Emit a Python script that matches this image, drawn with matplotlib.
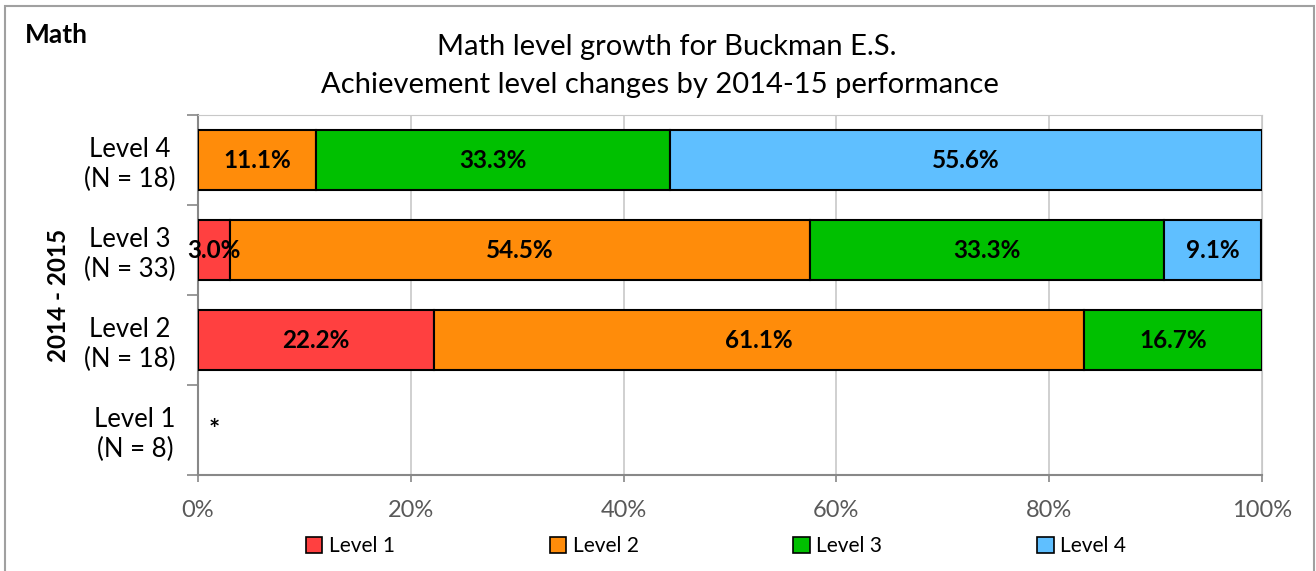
import numpy as np
import matplotlib
matplotlib.use("Agg")
import matplotlib.pyplot as plt
from matplotlib.patches import Rectangle, Patch

plt.rcParams['font.family'] = ['Lato', 'DejaVu Sans']

# rows from bottom to top
rows = ['Level 1\n(N = 8)', 'Level 2\n(N = 18)', 'Level 3\n(N = 33)', 'Level 4\n(N = 18)']
series = ['Level 1', 'Level 2', 'Level 3', 'Level 4']
level1 = [0, 22.2, 3.0, 0]
level2 = [0, 61.1, 54.5, 11.1]
level3 = [0, 16.7, 33.3, 33.3]
level4 = [0, 0, 9.1, 55.6]
colors = ['#FF4040', '#FF8C0A', '#00C000', '#5FBFFF']

fig = plt.figure(figsize=(13.16, 5.71), dpi=100)
ax = fig.add_axes([198/1316, 96/571, 1064/1316, 360/571])

# outer chart border
fig.patches.append(Rectangle((5/1316, -0.05), 1309/1316, 1.05 - 6/571,
                             transform=fig.transFigure, fill=False,
                             edgecolor='#A0A0A0', linewidth=1.5))

y = np.arange(len(rows))
left = np.zeros(len(rows))
for name, vals, c in zip(series, [level1, level2, level3, level4], colors):
    vals = np.array(vals)
    # no outline for empty segments
    lw = np.where(vals > 0, 1.5, 0)
    ax.barh(y, vals, left=left, height=0.66, color=c, edgecolor='black',
            linewidth=lw, zorder=3)
    for yi, v, l in zip(y, vals, left):
        if v > 0:
            ax.text(l + v / 2, yi, f'{v:.1f}%', ha='center', va='center',
                    fontsize=17.5, fontweight='bold', zorder=4)
    left += vals

ax.text(1.5, 0, '*', ha='center', va='center', fontsize=19, fontweight='bold')

ax.set_xlim(0, 100)
ax.set_ylim(-0.5, 3.5)
ax.set_xticks(np.arange(0, 101, 20))
ax.set_xticklabels([f'{v}%' for v in range(0, 101, 20)])
ax.set_yticks(y)
ax.set_yticklabels(rows)
ax.set_yticks(np.arange(-0.5, 3.6, 1), minor=True)
for lab in ax.get_yticklabels():
    lab.set_multialignment('center')

ax.tick_params(axis='y', which='major', length=0, pad=16, labelsize=18.5)
ax.tick_params(axis='y', which='minor', length=8, color='#888888', width=1.2)
ax.tick_params(axis='x', length=5, color='#888888', width=1.2, pad=13,
               labelsize=17, labelcolor='#595959')

ax.grid(axis='x', color='#C8C8C8', linewidth=1.2, zorder=0)
ax.spines['left'].set_color('#888888')
ax.spines['bottom'].set_color('#888888')
ax.spines['left'].set_linewidth(1.5)
ax.spines['bottom'].set_linewidth(1.5)
ax.spines['top'].set_color('#C8C8C8')
ax.spines['right'].set_color('#C8C8C8')

ax.set_ylabel('2014 - 2015', fontsize=17.5, fontweight='bold', labelpad=10)

fig.text(667/1316, 1 - 47/571, 'Math level growth for Buckman E.S.',
         ha='center', va='center', fontsize=21)
fig.text(660/1316, 1 - 85/571, 'Achievement level changes by 2014-15 performance',
         ha='center', va='center', fontsize=21)
fig.text(25/1316, 1 - 35/571, 'Math', ha='left', va='center', fontsize=19,
         fontweight='bold')

handles = [Patch(facecolor=c, edgecolor='black', linewidth=1.2, label=s)
           for s, c in zip(series, colors)]
fig.legend(handles=handles, loc='center',
           bbox_to_anchor=(287/1316, 25/571, 858/1316, 0),
           mode='expand', ncol=4, frameon=False, fontsize=15,
           handlelength=0.8, handleheight=0.8, handletextpad=0.3)

fig.savefig('out.png', dpi=100)
